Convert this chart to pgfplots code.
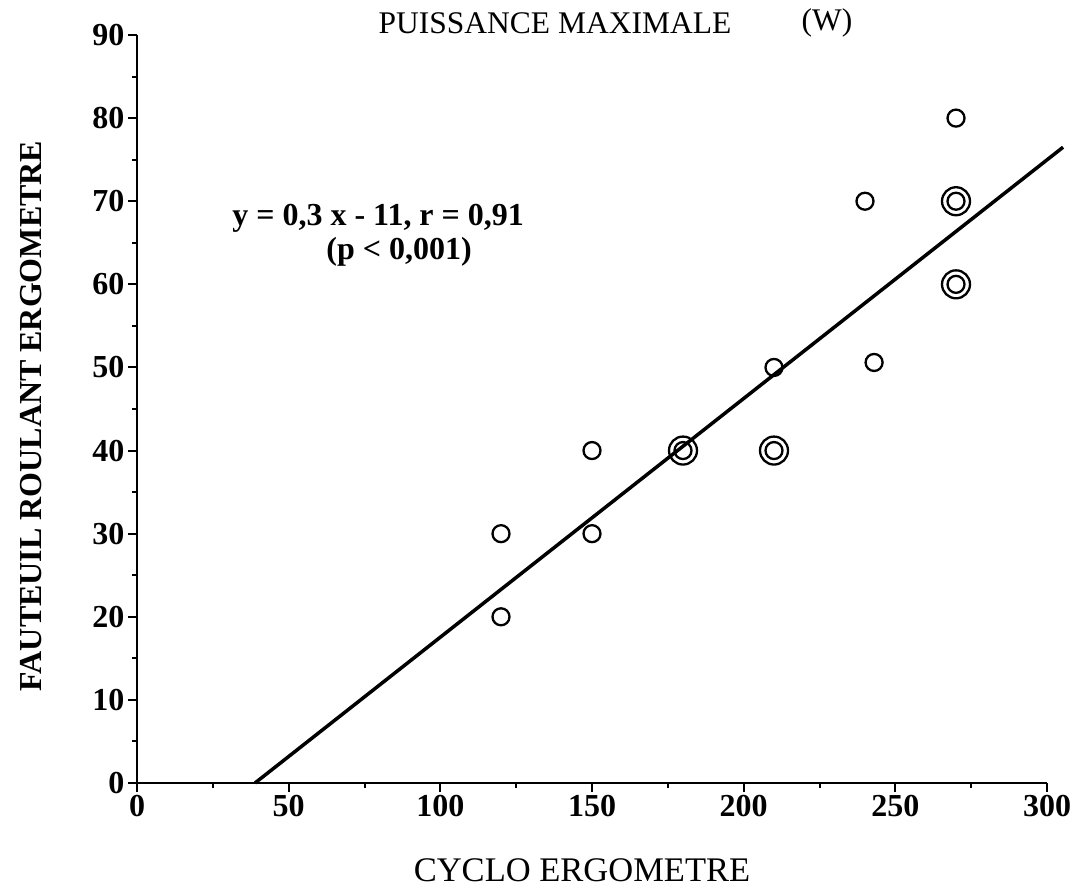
\documentclass[border=0pt]{standalone}
\usepackage{fontspec}
\setmainfont{Liberation Serif}
\usepackage{pgfplots}
\pgfplotsset{compat=1.18}
\begin{document}
\begin{tikzpicture}
\path[use as bounding box] (0pt,0pt) rectangle (1073pt,887pt);
\begin{axis}[
  at={(137pt,104pt)}, anchor=south west,
  scale only axis, width=910pt, height=748pt,
  xmin=0, xmax=300, ymin=0, ymax=90,
  axis x line*=bottom, axis y line*=left,
  axis line style={line width=2.6pt},
  xtick={0,50,...,300}, ytick={0,10,...,90},
  minor x tick num=1, minor y tick num=1,
  tick align=outside,
  major tick length=9pt, minor tick length=5pt,
  every tick/.style={line width=2pt, black},
  tick label style={font=\fontsize{32}{32}\selectfont\bfseries},
  /pgf/number format/assume math mode=true,
  clip=false,
]
% regression line
\addplot[line width=3.5pt, no marks] coordinates {(38.9,0) (305.3,76.5)};
% single points
\addplot[only marks, mark=o, mark size=8.5pt, mark options={line width=2.3pt}] coordinates {
(120,30) (120,20) (150,40) (150,30) (210,50) (240,70) (243,50.6) (270,80)
};
% double circles
\addplot[only marks, mark=o, mark size=14pt, mark options={line width=2.3pt}] coordinates {
(180,40) (210,40) (270,70) (270,60)
};
\addplot[only marks, mark=o, mark size=8.5pt, mark options={line width=2.3pt}] coordinates {
(180,40) (210,40) (270,70) (270,60)
};
\node[font=\fontsize{32}{32}\selectfont\bfseries] at (axis cs:79.5,68.0) {y = 0,3 x - 11, r = 0,91};
\node[font=\fontsize{32}{32}\selectfont\bfseries] at (axis cs:86.4,63.9) {(p < 0,001)};
\end{axis}
\node[font=\fontsize{31.5}{31.5}\selectfont] at (555pt,864pt) {PUISSANCE MAXIMALE};
\node[font=\fontsize{31.5}{31.5}\selectfont] at (827pt,864pt) {(W)};
\node[font=\fontsize{34.5}{34.5}\selectfont] at (582pt,17pt) {CYCLO ERGOMETRE};
\node[font=\fontsize{32}{32}\selectfont\bfseries, rotate=90] at (31pt,471pt) {FAUTEUIL ROULANT ERGOMETRE};
\end{tikzpicture}
\end{document}
